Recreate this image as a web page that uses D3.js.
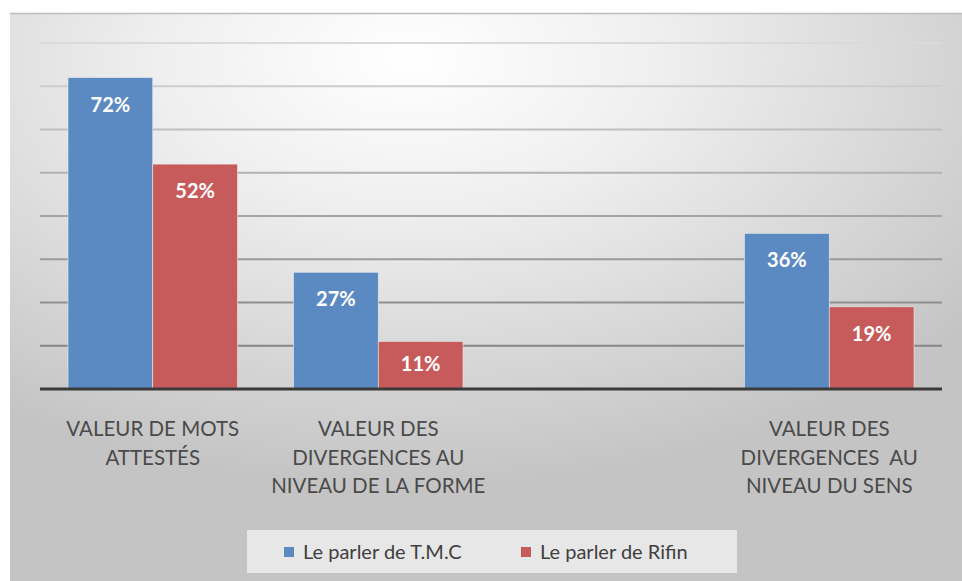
<!DOCTYPE html>
<html>
<head>
<meta charset="utf-8">
<script src="https://cdn.jsdelivr.net/npm/d3@7"></script>
<style>
  body { margin: 0; background: #fff; }
  svg { display: block; font-family: Lato, "Open Sans", sans-serif; }
</style>
</head>
<body>
<svg id="chart" width="962" height="581"></svg>
<script>
// categories (third slot is empty in the original)
const categories = ["c1", "c2", "c3", "c4"];
const categoryLabels = [
  ["VALEUR DE MOTS", "ATTESTÉS"],
  ["VALEUR DES", "DIVERGENCES AU", "NIVEAU DE LA FORME"],
  [],
  ["VALEUR DES", "DIVERGENCES  AU", "NIVEAU DU SENS"]
];
const seriesNames = ["Le parler de T.M.C", "Le parler de Rifin"];
const tmcValues = [72, 27, null, 36];
const rifinValues = [52, 11, null, 19];
const gridTicks = [0, 10, 20, 30, 40, 50, 60, 70, 80];

const colors = ["#5b8ac2", "#c75b5b"];

const svg = d3.select("#chart");
const defs = svg.append("defs");

// background gradient of the chart area
const bg = defs.append("radialGradient")
  .attr("id", "bg")
  .attr("cx", 0.42).attr("cy", 0.08).attr("r", 0.75);
bg.append("stop").attr("offset", 0).attr("stop-color", "#ffffff");
bg.append("stop").attr("offset", 0.35).attr("stop-color", "#efefef");
bg.append("stop").attr("offset", 1).attr("stop-color", "#c4c4c4");

svg.append("rect")
  .attr("x", 10).attr("y", 13).attr("width", 952).attr("height", 568)
  .attr("fill", "url(#bg)");
svg.append("line")
  .attr("x1", 10).attr("x2", 962).attr("y1", 13.5).attr("y2", 13.5)
  .attr("stroke", "#bdbdbd").attr("stroke-width", 1.5);

const x = d3.scaleBand().domain(categories).range([40, 942]).paddingInner(0).paddingOuter(0);
const y = d3.scaleLinear().domain([0, 80]).range([389, 43]);
const barPad = 28;
const xs = d3.scaleBand().domain([0, 1]).range([barPad, x.bandwidth() - barPad]);

// gridlines: get darker towards the bottom, as in the picture
const gridColor = d3.scaleLinear().domain([80, 40, 10]).range(["#dadada", "#a4a4a4", "#868686"]);
svg.append("g").selectAll("line")
  .data(gridTicks.filter(t => t > 0))
  .join("line")
  .attr("x1", 40).attr("x2", 942)
  .attr("y1", d => y(d)).attr("y2", d => y(d))
  .attr("stroke", d => gridColor(d)).attr("stroke-width", 2);

// bars
const rows = [];
categories.forEach((c, i) => {
  [tmcValues[i], rifinValues[i]].forEach((v, s) => {
    if (v != null) rows.push({ c, s, v });
  });
});

svg.append("g").selectAll("rect")
  .data(rows)
  .join("rect")
  .attr("x", d => x(d.c) + xs(d.s))
  .attr("y", d => y(d.v))
  .attr("width", xs.bandwidth())
  .attr("height", d => y(0) - y(d.v))
  .attr("fill", d => colors[d.s])
  .attr("stroke", "#eaeaea").attr("stroke-width", 0.6);

// data labels
svg.append("g").selectAll("text")
  .data(rows)
  .join("text")
  .attr("x", d => x(d.c) + xs(d.s) + xs.bandwidth() / 2)
  .attr("y", d => Math.min(y(d.v) + 29, (y(d.v) + y(0)) / 2 + 1))
  .attr("text-anchor", "middle").attr("dominant-baseline", "middle")
  .attr("fill", "#fff").attr("font-weight", "bold").attr("font-size", 20)
  .text(d => d.v + "%");

// baseline
svg.append("line")
  .attr("x1", 40).attr("x2", 942).attr("y1", y(0)).attr("y2", y(0))
  .attr("stroke", "#3a3a3a").attr("stroke-width", 3);

// category labels
const lab = svg.append("g").selectAll("text")
  .data(categories)
  .join("text")
  .attr("x", d => x(d) + x.bandwidth() / 2)
  .attr("y", 436)
  .attr("text-anchor", "middle")
  .attr("fill", "#4a4a4a").attr("font-size", 20.5);
lab.each(function(d, i) {
  d3.select(this).selectAll("tspan")
    .data(categoryLabels[i])
    .join("tspan")
    .attr("x", x(d) + x.bandwidth() / 2)
    .attr("dy", (t, j) => j === 0 ? 0 : 28.5)
    .style("white-space", "pre")
    .text(t => t);
});

// legend
const leg = svg.append("g");
leg.append("rect")
  .attr("x", 247).attr("y", 530).attr("width", 490).attr("height", 43)
  .attr("fill", "#ededed").attr("opacity", 0.85);
const legX = [284, 521];
seriesNames.forEach((n, i) => {
  leg.append("rect")
    .attr("x", legX[i]).attr("y", 547).attr("width", 10).attr("height", 10)
    .attr("fill", colors[i]);
  leg.append("text")
    .attr("x", legX[i] + 19).attr("y", 559)
    .attr("fill", "#404040").attr("font-size", 20)
    .text(n);
});
</script>
</body>
</html>
